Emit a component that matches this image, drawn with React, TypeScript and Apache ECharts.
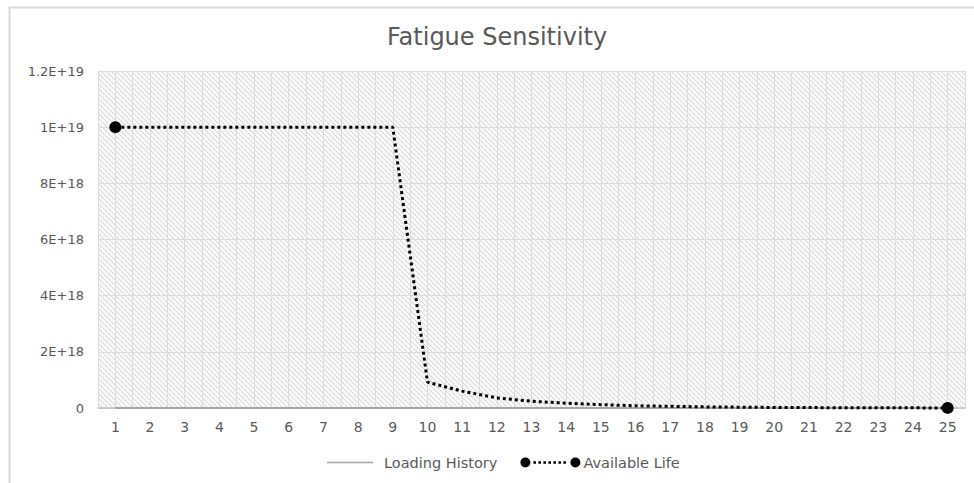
import React, { useEffect, useRef } from "react";
import * as echarts from "echarts";

const titleText = "Fatigue Sensitivity";
const cycles = [1, 2, 3, 4, 5, 6, 7, 8, 9, 10, 11, 12, 13, 14, 15, 16, 17, 18, 19, 20, 21, 22, 23, 24, 25];
const loadingHistory = [0, 0, 0, 0, 0, 0, 0, 0, 0, 0, 0, 0, 0, 0, 0, 0, 0, 0, 0, 0, 0, 0, 0, 0, 0];
const availableLife = [
  1e19, 1e19, 1e19, 1e19, 1e19, 1e19, 1e19, 1e19, 1e19,
  9.2e17, 6.0e17, 3.6e17, 2.4e17, 1.7e17, 1.2e17, 8e16, 6e16, 4e16,
  3e16, 2e16, 1.5e16, 1e16, 7e15, 5e15, 3e15,
];
const seriesNames = ["Loading History", "Available Life"];

function makeHatch(): string {
  const c = document.createElement("canvas");
  c.width = 5;
  c.height = 5;
  const ctx = c.getContext("2d")!;
  ctx.fillStyle = "#f8f8f8";
  ctx.fillRect(0, 0, 5, 5);
  ctx.strokeStyle = "#d4d4d4";
  ctx.lineWidth = 1;
  ctx.beginPath();
  ctx.moveTo(-1, -1);
  ctx.lineTo(6, 6);
  ctx.moveTo(-1, 4);
  ctx.lineTo(1, 6);
  ctx.moveTo(4, -1);
  ctx.lineTo(6, 1);
  ctx.stroke();
  return c.toDataURL();
}

function sciLabel(v: number): string {
  if (v === 0) return "0";
  const e = Math.floor(Math.log10(v) + 1e-9);
  const m = parseFloat((v / Math.pow(10, e)).toFixed(2));
  return `${m}E+${e}`;
}

// legend icons (Excel style)
const plainLineIcon = "path://M0,0L0.01,0M7,5.2H53V6.8H7ZM62,12L62.01,12";
function dottedIcon(): string {
  let d = "M1,6A5,5,0,1,1,11,6A5,5,0,1,1,1,6Z";
  for (let x = 14; x <= 48; x += 5) {
    d += `M${x},4.7H${x + 2.6}V7.3H${x}Z`;
  }
  d += "M51,6A5,5,0,1,1,61,6A5,5,0,1,1,51,6Z";
  return "path://" + d + "M0,0L0.01,0M62,12L62.01,12";
}

export default function App() {
  const ref = useRef<HTMLDivElement>(null);
  useEffect(() => {
    if (!ref.current) return;
    const chart = echarts.init(ref.current, null, { renderer: "svg" });
    const font = "'DejaVu Sans', sans-serif";
    const last = cycles.length - 1;
    chart.setOption({
      animation: false,
      backgroundColor: "#ffffff",
      title: {
        text: titleText,
        left: 382,
        top: 20,
        textStyle: { fontFamily: font, fontSize: 24, fontWeight: "normal", color: "#595959" },
      },
      graphic: [
        {
          type: "rect",
          shape: { x: 9.5, y: 7.5, width: 1000, height: 500 },
          style: { fill: "none", stroke: "#d9d9d9", lineWidth: 2 },
          silent: true,
          z: 0,
        },
      ],
      grid: {
        left: 98,
        top: 71,
        right: 9,
        bottom: 75,
        show: true,
        borderWidth: 0,
        backgroundColor: { image: makeHatch(), repeat: "repeat" },
      },
      legend: {
        bottom: 8,
        left: 315,
        itemWidth: 62,
        itemHeight: 12,
        itemGap: 22,
        textStyle: { fontFamily: font, fontSize: 14.5, color: "#595959", padding: [0, 0, 0, -3] },
        data: [
          { name: seriesNames[0], icon: plainLineIcon, itemStyle: { color: "#a5a5a5" } },
          { name: seriesNames[1], icon: dottedIcon(), itemStyle: { color: "#000000" } },
        ],
      },
      xAxis: {
        type: "value",
        min: 0.5,
        max: 25.5,
        interval: 0.5,
        axisLine: { show: true, onZero: false, lineStyle: { color: "#bfbfbf", width: 1.5 } },
        axisTick: { show: false },
        splitLine: { show: true, lineStyle: { color: "#dcdcdc", width: 1 } },
        axisLabel: {
          fontFamily: font,
          fontSize: 14,
          color: "#595959",
          margin: 12,
          showMinLabel: true,
          showMaxLabel: true,
          formatter: (v: number) => (Math.abs(v - Math.round(v)) < 1e-6 ? String(Math.round(v)) : ""),
        },
      },
      yAxis: {
        type: "value",
        min: 0,
        max: 1.2e19,
        interval: 2e18,
        axisLine: { show: false },
        axisTick: { show: false },
        splitLine: { show: true, lineStyle: { color: "#dcdcdc", width: 1 } },
        axisLabel: {
          fontFamily: font,
          fontSize: 13,
          color: "#595959",
          margin: 14,
          formatter: (v: number) => sciLabel(v),
        },
      },
      series: [
        {
          name: seriesNames[0],
          type: "line",
          data: cycles.map((c, i) => [c, loadingHistory[i]]),
          showSymbol: false,
          symbol: "none",
          lineStyle: { color: "#a5a5a5", width: 2 },
          itemStyle: { color: "#a5a5a5" },
          z: 2,
        },
        {
          name: seriesNames[1],
          type: "line",
          data: cycles.map((c, i) => [c, availableLife[i]]),
          symbol: "circle",
          symbolSize: (_v: any, p: any) => (p && (p.dataIndex === 0 || p.dataIndex === last) ? 12 : 0),
          showAllSymbol: true,
          itemStyle: { color: "#000000" },
          lineStyle: { color: "#000000", width: 3, type: [3, 3] },
          clip: false,
          z: 3,
        },
      ],
    });
    return () => chart.dispose();
  }, []);
  return <div ref={ref} style={{ position: "fixed", left: 0, top: 0, width: 974, height: 483 }} />;
}
